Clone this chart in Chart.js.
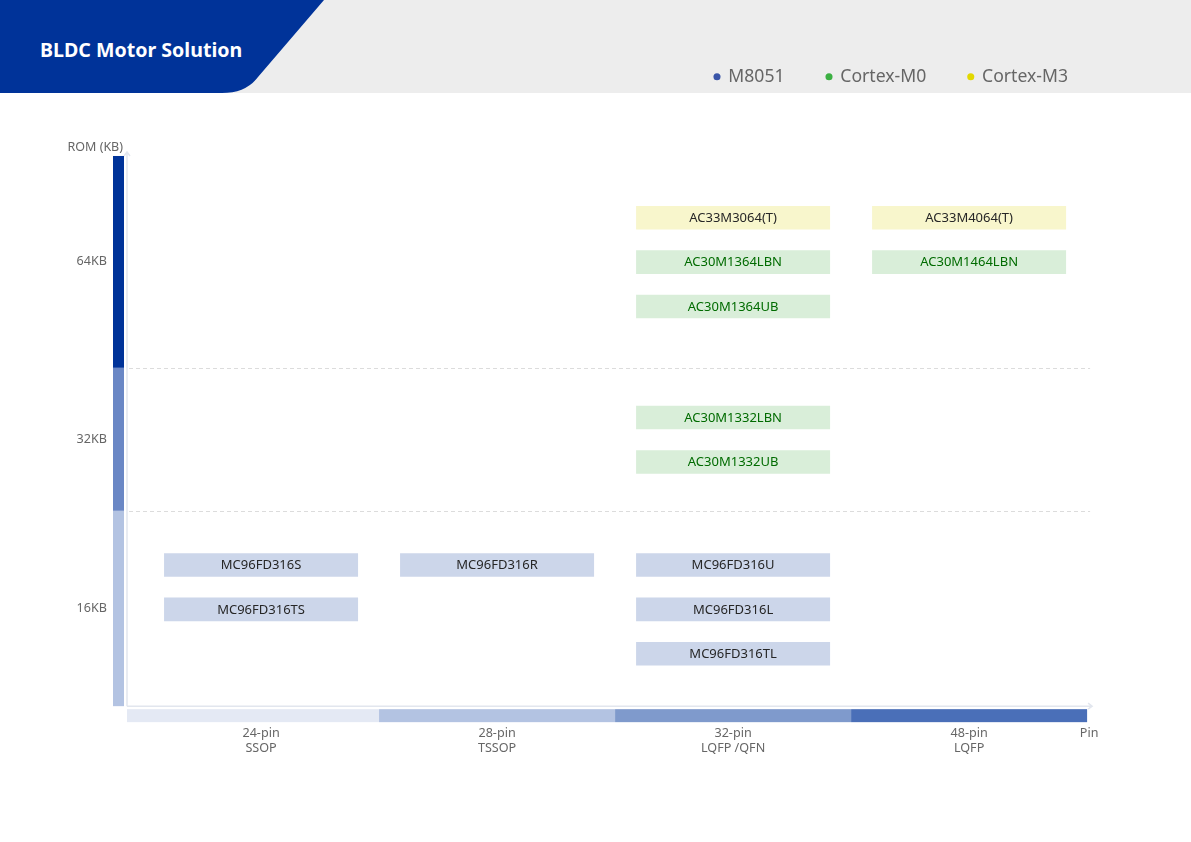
<!DOCTYPE html>
<html>
<head>
<meta charset="utf-8">
<script src="https://cdn.jsdelivr.net/npm/chart.js@4.4.0/dist/chart.umd.min.js"></script>
<style>
html,body{margin:0;padding:0;background:#fff;}
#wrap{position:relative;width:1191px;height:842px;overflow:hidden;background:#fff;}
#hdr{position:absolute;left:0;top:0;width:1191px;height:93px;background:#ededed;}
#hdr svg{position:absolute;left:0;top:0;}
#title{position:absolute;left:40px;top:36px;font:bold 19.6px "Noto Sans",sans-serif;color:#fff;line-height:28px;white-space:nowrap;}
#c{position:absolute;left:0;top:0;}
</style>
</head>
<body>
<div id="wrap">
  <div id="hdr">
    <svg width="340" height="93" viewBox="0 0 340 93"><path d="M0,0 L324,0 L258,77 Q246,93 222,93 L0,93 Z" fill="#003399"/></svg>
    <div id="title">BLDC Motor Solution</div>
  </div>
  <canvas id="c" width="1191" height="842"></canvas>
</div>
<script>
// ---- data ----
const categories = ['24-pin', '28-pin', '32-pin', '48-pin'];
const packages = ['SSOP', 'TSSOP', 'LQFP /QFN', 'LQFP'];
const families = ['M8051', 'Cortex-M0', 'Cortex-M3'];
const romLabels = ['16KB', '32KB', '64KB'];
const romBounds = [0, 4.4, 7.62, 12.39];
const productNames = ['MC96FD316S', 'MC96FD316TS', 'MC96FD316R', 'MC96FD316U', 'MC96FD316L', 'MC96FD316TL',
  'AC30M1332LBN', 'AC30M1332UB', 'AC30M1364LBN', 'AC30M1364UB', 'AC30M1464LBN', 'AC33M3064(T)', 'AC33M4064(T)'];
const productPackage = [0, 0, 1, 2, 2, 2, 2, 2, 2, 2, 3, 2, 3];
const productFamily = [0, 0, 0, 0, 0, 0, 1, 1, 1, 1, 1, 2, 2];
const productSlot = [3.18, 2.18, 3.18, 3.18, 2.18, 1.18, 6.5, 5.5, 10, 9, 10, 11, 11];

// ---- styles ----
const FONT = '"Noto Sans", sans-serif';
const BOX_HALF = 0.265;
const boxColors = ['#ccd6ea', '#d9eed9', '#f8f6cc'];
const textColors = ['#262626', '#006b00', '#262626'];
const legendColors = ['#3a55a8', '#3cb043', '#e2d800'];
const romBandColors = ['#b3c3e2', '#6a87c5', '#003399'];
const pinBandColors = ['#e4e9f4', '#b3c3e2', '#7f9acc', '#4a6fb8'];

Chart.defaults.font.family = FONT;

const datasets = families.map((f, fi) => ({
  label: f,
  data: productNames.map((n, i) => ({ n, i }))
    .filter(o => productFamily[o.i] === fi)
    .map(o => ({ x: productPackage[o.i], y: [productSlot[o.i] - BOX_HALF, productSlot[o.i] + BOX_HALF], name: o.n })),
  backgroundColor: boxColors[fi],
  borderWidth: 0,
  grouped: false,
  categoryPercentage: 1,
  barPercentage: 0.822
}));

const decor = {
  id: 'decor',
  beforeDatasetsDraw(chart) {
    const { ctx, chartArea: a, scales: { x, y } } = chart;
    ctx.save();
    // ROM band
    for (let k = 0; k < 3; k++) {
      const t = y.getPixelForValue(romBounds[k + 1]);
      const b = y.getPixelForValue(romBounds[k]);
      ctx.fillStyle = romBandColors[k];
      ctx.fillRect(a.left - 14, t, 11, b - t);
    }
    // dashed section lines
    ctx.strokeStyle = '#dcdcdc';
    ctx.lineWidth = 1;
    ctx.setLineDash([4, 3]);
    for (let k = 1; k < 3; k++) {
      const py = Math.round(y.getPixelForValue(romBounds[k])) + 0.5;
      ctx.beginPath();
      ctx.moveTo(a.left + 2, py);
      ctx.lineTo(x.getPixelForValue(3.5) + 3, py);
      ctx.stroke();
    }
    ctx.setLineDash([]);
    // pin band
    const bottom = y.getPixelForValue(0);
    for (let i = 0; i < categories.length; i++) {
      const l = i === 0 ? a.left : x.getPixelForValue(i - 0.5);
      const r = x.getPixelForValue(i + 0.5);
      ctx.fillStyle = pinBandColors[i];
      ctx.fillRect(l, bottom + 3, r - l, 13);
    }
    // axes with arrows
    ctx.strokeStyle = '#e2e6ee';
    ctx.lineWidth = 1.5;
    const bandTop = y.getPixelForValue(romBounds[3]);
    const topY = bandTop - 4;
    const rightX = x.getPixelForValue(3.5) + 5;
    ctx.beginPath();
    ctx.moveTo(a.left, bottom);
    ctx.lineTo(a.left, topY);
    ctx.moveTo(a.left - 3, topY + 4);
    ctx.lineTo(a.left, topY);
    ctx.lineTo(a.left + 3, topY + 4);
    ctx.moveTo(a.left, bottom);
    ctx.lineTo(rightX, bottom);
    ctx.moveTo(rightX - 4, bottom - 3);
    ctx.lineTo(rightX, bottom);
    ctx.lineTo(rightX - 4, bottom + 3);
    ctx.stroke();
    // axis names
    ctx.fillStyle = '#666';
    ctx.font = '12.5px ' + FONT;
    ctx.textBaseline = 'middle';
    ctx.textAlign = 'right';
    ctx.fillText('ROM (KB)', a.left - 4, bandTop - 9);
    ctx.textAlign = 'center';
    ctx.fillText('Pin', rightX - 3, bottom + 27);
    ctx.restore();
  },
  afterDatasetsDraw(chart) {
    const { ctx } = chart;
    ctx.save();
    ctx.font = '13px ' + FONT;
    ctx.textAlign = 'center';
    ctx.textBaseline = 'middle';
    chart.data.datasets.forEach((ds, di) => {
      const meta = chart.getDatasetMeta(di);
      ctx.fillStyle = textColors[di];
      meta.data.forEach((bar, i) => {
        ctx.fillText(ds.data[i].name, bar.x, (bar.y + bar.base) / 2 + 0.5);
      });
    });
    ctx.restore();
  }
};

new Chart(document.getElementById('c'), {
  type: 'bar',
  data: { datasets },
  options: {
    responsive: false,
    animation: false,
    events: [],
    layout: { padding: { left: 0, right: 81, top: 26, bottom: 65.6 } },
    plugins: {
      tooltip: { enabled: false },
      legend: {
        position: 'top',
        align: 'end',
        labels: {
          usePointStyle: true,
          boxWidth: 5,
          boxHeight: 5,
          padding: 42,
          color: '#666',
          font: { size: 17.6, family: FONT },
          generateLabels: () => families.map((f, i) => ({
            text: f, fillStyle: legendColors[i], strokeStyle: legendColors[i],
            lineWidth: 0, pointStyle: 'circle', datasetIndex: i, fontColor: '#666', hidden: false
          }))
        }
      }
    },
    scales: {
      x: {
        type: 'linear',
        offset: false,
        min: -0.568,
        max: 3.597,
        grid: { display: false, drawTicks: false, offset: false },
        border: { display: false },
        afterBuildTicks: s => { s.ticks = categories.map((_, i) => ({ value: i })); },
        ticks: {
          padding: 20, maxRotation: 0, autoSkip: false, color: '#666',
          font: { size: 12.6, family: FONT },
          callback: (v, i) => [categories[i], packages[i]]
        }
      },
      y: {
        type: 'linear',
        min: 0,
        max: 13.75,
        grid: { display: false, drawTicks: false },
        border: { display: false },
        afterBuildTicks: s => { s.ticks = romLabels.map((_, k) => ({ value: (romBounds[k] + romBounds[k + 1]) / 2 })); },
        afterFit: s => { s.width = 127; },
        ticks: {
          padding: 20, color: '#666', font: { size: 12.6, family: FONT },
          callback: (v, i) => romLabels[i]
        }
      }
    }
  },
  plugins: [decor]
});
</script>
</body>
</html>
